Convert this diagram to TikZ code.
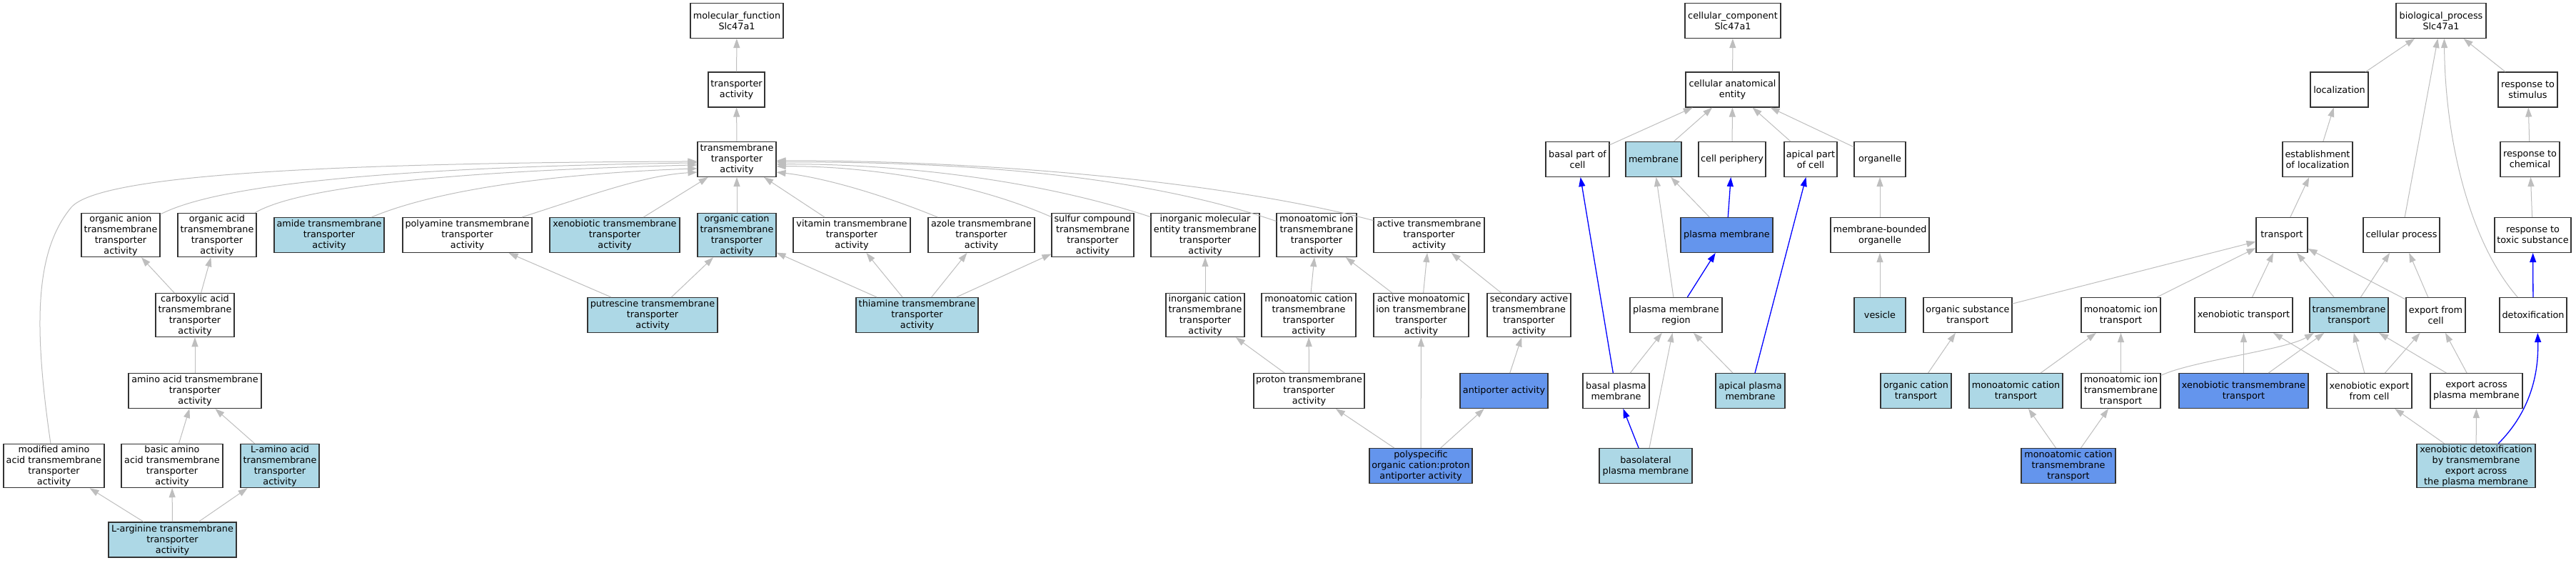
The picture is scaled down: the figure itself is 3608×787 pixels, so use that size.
\documentclass[tikz,border=0pt]{standalone}
\usepackage{fontspec}
\setmainfont{DejaVu Sans}
\usetikzlibrary{arrows.meta}
\definecolor{lb}{HTML}{ADD8E6}
\definecolor{cfb}{HTML}{6495ED}
\definecolor{edgegray}{HTML}{BEBEBE}
\definecolor{boxline}{HTML}{333333}

\begin{document}
\begin{tikzpicture}
[every node/.style={inner sep=0pt},
 box/.style={rectangle, draw=boxline, line width=1.1pt, fill=white, align=center, inner xsep=2pt, inner ysep=2pt, minimum height=49pt, font=\fontsize{12.8pt}{15pt}\selectfont},
 light/.style={box, fill=lb},
 dark/.style={box, fill=cfb},
 isa/.style={line width=1pt, draw=edgegray, -{Triangle[length=13pt, width=9pt]}},
 strong/.style={line width=1.3pt, draw=blue, -{Triangle[length=13pt, width=9pt]}}]
\useasboundingbox (0pt, 0pt) rectangle (3608pt, -787pt);
\fill [white] (0pt, 0pt) rectangle (3608pt, -787pt);
\node (mf) [box, minimum width=130pt] at (1032pt, -29pt) {molecular\_function\\Slc47a1};
\node (cc) [box, minimum width=134pt] at (2427pt, -29pt) {cellular\_component\\Slc47a1};
\node (bp) [box, minimum width=126pt] at (3419pt, -29pt) {biological\_process\\Slc47a1};
\node (ta) [box, minimum width=79pt] at (1031.5pt, -125.5pt) {transporter\\activity};
\node (cae) [box, minimum width=131pt] at (2426.5pt, -125.5pt) {cellular anatomical\\entity};
\node (loc) [box, minimum width=81pt] at (3276.5pt, -125.5pt) {localization};
\node (rstim) [box, minimum width=83pt] at (3540.5pt, -125.5pt) {response to\\stimulus};
\node (tta) [box, minimum width=110pt] at (1032pt, -223pt) {transmembrane\\transporter\\activity};
\node (bpc) [box, minimum width=89pt] at (2209.5pt, -223pt) {basal part of\\cell};
\node (memb) [light, minimum width=78pt] at (2316pt, -223pt) {membrane};
\node (cellper) [box, minimum width=94pt] at (2426pt, -223pt) {cell periphery};
\node (apc) [box, minimum width=74pt] at (2536pt, -223pt) {apical part\\of cell};
\node (organelle) [box, minimum width=72pt] at (2633pt, -223pt) {organelle};
\node (estloc) [box, minimum width=98pt] at (3246pt, -223pt) {establishment\\of localization};
\node (rchem) [box, minimum width=83pt] at (3543.5pt, -223pt) {response to\\chemical};
\node (oanion) [box, minimum width=110pt] at (169pt, -329pt) {organic anion\\transmembrane\\transporter\\activity};
\node (oacid) [box, minimum width=110pt] at (304pt, -329pt) {organic acid\\transmembrane\\transporter\\activity};
\node (amide) [light, minimum width=154pt] at (461pt, -329pt) {amide transmembrane\\transporter\\activity};
\node (polyam) [box, minimum width=181pt] at (654.5pt, -329pt) {polyamine transmembrane\\transporter\\activity};
\node (xeno) [light, minimum width=182pt] at (861pt, -329pt) {xenobiotic transmembrane\\transporter\\activity};
\node (ocat) [light, minimum width=110pt] at (1032pt, -329pt) {organic cation\\transmembrane\\transporter\\activity};
\node (vit) [box, minimum width=164pt] at (1193pt, -329pt) {vitamin transmembrane\\transporter\\activity};
\node (azole) [box, minimum width=149pt] at (1374.5pt, -329pt) {azole transmembrane\\transporter\\activity};
\node (sulfur) [box, minimum width=115pt] at (1530.5pt, -329pt) {sulfur compound\\transmembrane\\transporter\\activity};
\node (inorgmol) [box, minimum width=152pt] at (1688pt, -329pt) {inorganic molecular\\entity transmembrane\\transporter\\activity};
\node (monoion) [box, minimum width=112pt] at (1844pt, -329pt) {monoatomic ion\\transmembrane\\transporter\\activity};
\node (activetm) [box, minimum width=155pt] at (2001.5pt, -329pt) {active transmembrane\\transporter\\activity};
\node (pm) [dark, minimum width=129pt] at (2418.5pt, -329pt) {plasma membrane};
\node (mbo) [box, minimum width=138pt] at (2633pt, -329pt) {membrane-bounded\\organelle};
\node (transport) [box, minimum width=72pt] at (3196pt, -329pt) {transport};
\node (cellproc) [box, minimum width=107pt] at (3363.5pt, -329pt) {cellular process};
\node (rtox) [box, minimum width=107pt] at (3547.5pt, -329pt) {response to\\toxic substance};
\node (carbox) [box, minimum width=110pt] at (273pt, -441pt) {carboxylic acid\\transmembrane\\transporter\\activity};
\node (putres) [light, minimum width=182pt] at (914pt, -441pt) {putrescine transmembrane\\transporter\\activity};
\node (thiam) [light, minimum width=171pt] at (1284.5pt, -441pt) {thiamine transmembrane\\transporter\\activity};
\node (inorgcat) [box, minimum width=110pt] at (1688pt, -441pt) {inorganic cation\\transmembrane\\transporter\\activity};
\node (monocat) [box, minimum width=132pt] at (1833pt, -441pt) {monoatomic cation\\transmembrane\\transporter\\activity};
\node (actmono) [box, minimum width=133pt] at (1990.5pt, -441pt) {active monoatomic\\ion transmembrane\\transporter\\activity};
\node (secact) [box, minimum width=117pt] at (2141.5pt, -441pt) {secondary active\\transmembrane\\transporter\\activity};
\node (pmr) [box, minimum width=129pt] at (2347.5pt, -441pt) {plasma membrane\\region};
\node (vesicle) [light, minimum width=72pt] at (2633pt, -441pt) {vesicle};
\node (ost) [box, minimum width=124pt] at (2756pt, -441pt) {organic substance\\transport};
\node (miont) [box, minimum width=111pt] at (2970.5pt, -441pt) {monoatomic ion\\transport};
\node (xenot) [box, minimum width=137pt] at (3142.5pt, -441pt) {xenobiotic transport};
\node (tmt) [light, minimum width=110pt] at (3290pt, -441pt) {transmembrane\\transport};
\node (efc) [box, minimum width=83pt] at (3411.5pt, -441pt) {export from\\cell};
\node (detox) [box, minimum width=94pt] at (3548pt, -441pt) {detoxification};
\node (amino) [box, minimum width=186pt] at (273pt, -547pt) {amino acid transmembrane\\transporter\\activity};
\node (proton) [box, minimum width=155pt] at (1833.5pt, -547pt) {proton transmembrane\\transporter\\activity};
\node (antip) [dark, minimum width=123pt] at (2106.5pt, -547pt) {antiporter activity};
\node (bpm) [box, minimum width=93pt] at (2263.5pt, -547pt) {basal plasma\\membrane};
\node (apm) [light, minimum width=97pt] at (2451.5pt, -547pt) {apical plasma\\membrane};
\node (oct) [light, minimum width=99pt] at (2683.5pt, -547pt) {organic cation\\transport};
\node (mct) [light, minimum width=131pt] at (2823.5pt, -547pt) {monoatomic cation\\transport};
\node (miontm) [box, minimum width=111pt] at (2970.5pt, -547pt) {monoatomic ion\\transmembrane\\transport};
\node (xtmt) [dark, minimum width=181pt] at (3142.5pt, -547pt) {xenobiotic transmembrane\\transport};
\node (xefc) [box, minimum width=119pt] at (3318.5pt, -547pt) {xenobiotic export\\from cell};
\node (eapm) [box, minimum width=129pt] at (3468.5pt, -547pt) {export across\\plasma membrane};
\node (modamino) [box, minimum width=141pt] at (75.5pt, -652pt) {modified amino\\acid transmembrane\\transporter\\activity};
\node (basicamino) [box, minimum width=142pt] at (241pt, -652pt) {basic amino\\acid transmembrane\\transporter\\activity};
\node (lamino) [light, minimum width=110pt] at (392pt, -652pt) {L-amino acid\\transmembrane\\transporter\\activity};
\node (poly) [dark, minimum width=144pt] at (1990pt, -652pt) {polyspecific\\organic cation:proton\\antiporter activity};
\node (baso) [light, minimum width=130pt] at (2305pt, -652pt) {basolateral\\plasma membrane};
\node (mctmt) [dark, minimum width=132pt] at (2897pt, -652pt) {monoatomic cation\\transmembrane\\transport};
\node (xdetox) [light, minimum width=166pt] at (3468pt, -652pt) {xenobiotic detoxification\\by transmembrane\\export across\\the plasma membrane};
\node (larg) [light, minimum width=179pt] at (241.5pt, -755.5pt) {L-arginine transmembrane\\transporter\\activity};
\draw [isa] (ta) -- (mf);
\draw [isa] (tta) -- (ta);
\draw [isa] (modamino) .. controls (46pt, -450pt) and (50pt, -350pt) .. (100pt, -290pt) .. controls (140pt, -245pt) and (450pt, -228pt) .. (tta.183);
\draw [isa] (oanion) .. controls (330pt, -245pt) and (700pt, -232pt) .. (tta.185);
\draw [isa] (oacid) .. controls (430pt, -255pt) and (700pt, -238pt) .. (tta.188);
\draw [isa] (amide) .. controls (620pt, -262pt) and (800pt, -242pt) .. (tta.193);
\draw [isa] (polyam) .. controls (850pt, -265pt) and (910pt, -245pt) .. (tta.198);
\draw [isa] (xeno) -- (tta);
\draw [isa] (ocat) -- (tta);
\draw [isa] (vit) -- (tta);
\draw [isa] (azole) .. controls (1230pt, -270pt) and (1150pt, -248pt) .. (tta.342);
\draw [isa] (sulfur) .. controls (1350pt, -250pt) and (1200pt, -232pt) .. (tta.350);
\draw [isa] (inorgmol) .. controls (1450pt, -250pt) and (1250pt, -229pt) .. (tta.353);
\draw [isa] (monoion) .. controls (1600pt, -245pt) and (1350pt, -226pt) .. (tta.356);
\draw [isa] (activetm) .. controls (1700pt, -250pt) and (1350pt, -224pt) .. (tta.358);
\draw [isa] (carbox) -- (oanion);
\draw [isa] (carbox) -- (oacid);
\draw [isa] (amino) -- (carbox);
\draw [isa] (basicamino) -- (amino);
\draw [isa] (lamino) -- (amino);
\draw [isa] (larg) -- (modamino);
\draw [isa] (larg) -- (basicamino);
\draw [isa] (larg) -- (lamino);
\draw [isa] (putres) -- (polyam);
\draw [isa] (putres) -- (ocat);
\draw [isa] (thiam) -- (ocat);
\draw [isa] (thiam) -- (vit);
\draw [isa] (thiam) -- (azole);
\draw [isa] (thiam) -- (sulfur);
\draw [isa] (inorgcat) -- (inorgmol);
\draw [isa] (monocat) -- (monoion);
\draw [isa] (actmono) -- (monoion);
\draw [isa] (actmono) -- (activetm);
\draw [isa] (secact) -- (activetm);
\draw [isa] (proton) -- (inorgcat);
\draw [isa] (proton) -- (monocat);
\draw [isa] (antip) -- (secact);
\draw [isa] (poly) -- (proton);
\draw [isa] (poly) -- (actmono);
\draw [isa] (poly) -- (antip);
\draw [isa] (cae) -- (cc);
\draw [isa] (bpc) -- (cae);
\draw [isa] (memb) -- (cae);
\draw [isa] (cellper) -- (cae);
\draw [isa] (apc) -- (cae);
\draw [isa] (organelle) -- (cae);
\draw [isa] (pm) -- (memb);
\draw [strong] (pm) -- (cellper);
\draw [isa] (mbo) -- (organelle);
\draw [isa] (pmr) -- (memb);
\draw [strong] (pmr) -- (pm);
\draw [isa] (vesicle) -- (mbo);
\draw [strong] (bpm) -- (bpc);
\draw [isa] (bpm) -- (pmr);
\draw [strong] (apm) -- (apc);
\draw [isa] (apm) -- (pmr);
\draw [strong] (baso) -- (bpm);
\draw [isa] (baso) -- (pmr);
\draw [isa] (loc) -- (bp);
\draw [isa] (rstim) -- (bp);
\draw [isa] (cellproc) -- (bp);
\draw [isa] (detox) .. controls (3460pt, -340pt) and (3425pt, -200pt) .. (bp.280);
\draw [isa] (estloc) -- (loc);
\draw [isa] (rchem) -- (rstim);
\draw [isa] (transport) -- (estloc);
\draw [isa] (rtox) -- (rchem);
\draw [strong] (detox) -- (rtox);
\draw [isa] (ost) -- (transport);
\draw [isa] (miont) -- (transport);
\draw [isa] (xenot) -- (transport);
\draw [isa] (tmt) -- (transport);
\draw [isa] (tmt) -- (cellproc);
\draw [isa] (efc) -- (transport);
\draw [isa] (efc) -- (cellproc);
\draw [isa] (oct) -- (ost);
\draw [isa] (mct) -- (miont);
\draw [isa] (miontm) -- (miont);
\draw [isa] (miontm.21) .. controls (3070pt, -505pt) and (3200pt, -490pt) .. (tmt.207);
\draw [isa] (xtmt) -- (xenot);
\draw [isa] (xtmt) -- (tmt);
\draw [isa] (xefc) -- (xenot);
\draw [isa] (xefc) -- (tmt);
\draw [isa] (xefc) -- (efc);
\draw [isa] (eapm) -- (tmt);
\draw [isa] (eapm) -- (efc);
\draw [isa] (mctmt) -- (mct);
\draw [isa] (mctmt) -- (miontm);
\draw [isa] (xdetox) -- (xefc);
\draw [isa] (xdetox) -- (eapm);
\draw [strong] (xdetox) .. controls (3540pt, -580pt) and (3556pt, -530pt) .. (detox.284);
\end{tikzpicture}
\end{document}
